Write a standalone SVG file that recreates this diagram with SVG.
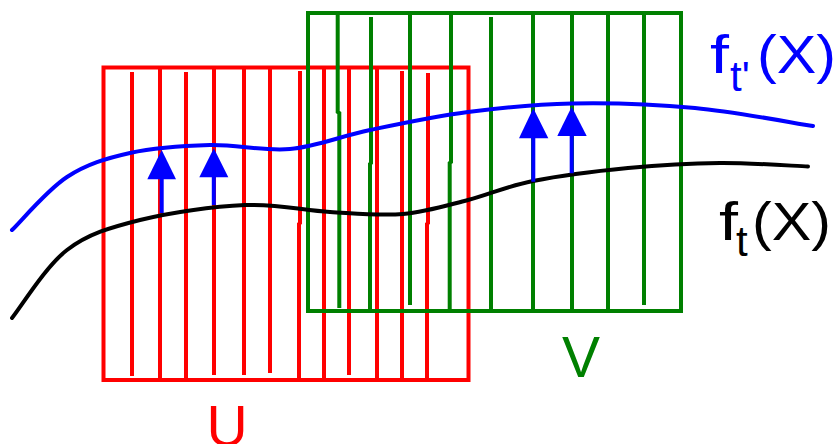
<svg xmlns="http://www.w3.org/2000/svg" width="837" height="444" viewBox="0 0 837 444">
<style>
.red{fill:none;stroke:#ff0000;stroke-width:4}
.grn{fill:none;stroke:#008000;stroke-width:4}
.crv{fill:none;stroke-width:4;stroke-linecap:round;stroke-linejoin:round}
.shaft{stroke:#0000ff;stroke-width:4;fill:none}
.head{fill:#0000ff}
.lbl{font-family:"Liberation Sans",Arial,sans-serif}
</style>
<rect width="837" height="444" fill="#ffffff"/>
<g id="U">
<rect class="red" x="103.5" y="67.5" width="365" height="312.5"/>
<path class="red" d="M132,72V376 M160,69V379 M186,72V379 M214,69V375 M244,69V375 M270,69V373 M300,71V223L299,224V379 M324,69V379 M349,69V375 M377,69V379 M402,71V379 M428,73V223L427,224V379"/>
<text class="lbl" x="227" y="446" font-size="57" fill="#ff0000" text-anchor="middle">U</text>
</g>
<g id="V">
<rect class="grn" x="308" y="13" width="373" height="298"/>
<path class="grn" d="M337.7,13V112L339.3,113V308 M371,17V163L370,164V311 M410,13V305 M451,13V162L449.7,163V311 M491,17V311 M533,13V311 M572,13V311 M608,13V311 M644,13V305"/>
<text class="lbl" x="581" y="377" font-size="57" fill="#008000" text-anchor="middle">V</text>
</g>
<g id="curves">
<path id="ft-prime" class="crv" stroke="#0000ff" d="M12,230 C21.2,221.2 47.3,189.8 67,177 C86.7,164.2 106.2,158.3 130,153 C153.8,147.7 183.3,145.7 210,145 C236.7,144.3 263.3,151.5 290,149 C316.7,146.5 340.3,136.2 370,130 C399.7,123.8 434.3,116.4 468,112 C501.7,107.6 534.2,104.2 572,103.5 C609.8,102.8 654.8,104.25 695,108 C735.2,111.75 793.3,123 813,126"/>
<path id="ft" class="crv" stroke="#000000" d="M12,318 C21.2,306.7 45.7,266.3 67,250 C88.3,233.7 110.3,227.5 140,220 C169.7,212.5 213.3,206.3 245,205 C276.7,203.7 303.7,210.5 330,212 C356.3,213.5 380,216 403,214 C426,212 446.3,205.5 468,200 C489.7,194.5 506.3,186.3 533,181 C559.7,175.7 596.8,171 628,168 C659.2,165 690,163.25 720,163 C750,162.75 793.3,165.9 808,166.5"/>
<text class="lbl" x="710" y="73" font-size="53" fill="#0000ff" textLength="19" lengthAdjust="spacingAndGlyphs">f</text>
<text class="lbl" x="730" y="91" font-size="42" fill="#0000ff">t'</text>
<text class="lbl" x="757" y="73" font-size="53" fill="#0000ff" textLength="79" lengthAdjust="spacingAndGlyphs">(X)</text>
<text class="lbl" x="719" y="240" font-size="53" fill="#000000" textLength="19" lengthAdjust="spacingAndGlyphs">f</text>
<text class="lbl" x="736" y="256" font-size="42" fill="#000000">t</text>
<text class="lbl" x="752" y="240" font-size="53" fill="#000000" textLength="79" lengthAdjust="spacingAndGlyphs">(X)</text>
</g>
<g id="connectors">
<path class="shaft" d="M161.7,213V176 M213.8,205V175 M533.3,181.7V135 M571.7,173.3V133"/>
<polygon class="head" points="161.7,150 147.3,179.3 176,179.3"/>
<polygon class="head" points="213.8,148.3 199.3,177.3 228.3,177.3"/>
<polygon class="head" points="533.3,108.3 519,138.3 548.3,138.3"/>
<polygon class="head" points="571.7,106.7 557.3,136 586.7,136"/>
</g>
</svg>
